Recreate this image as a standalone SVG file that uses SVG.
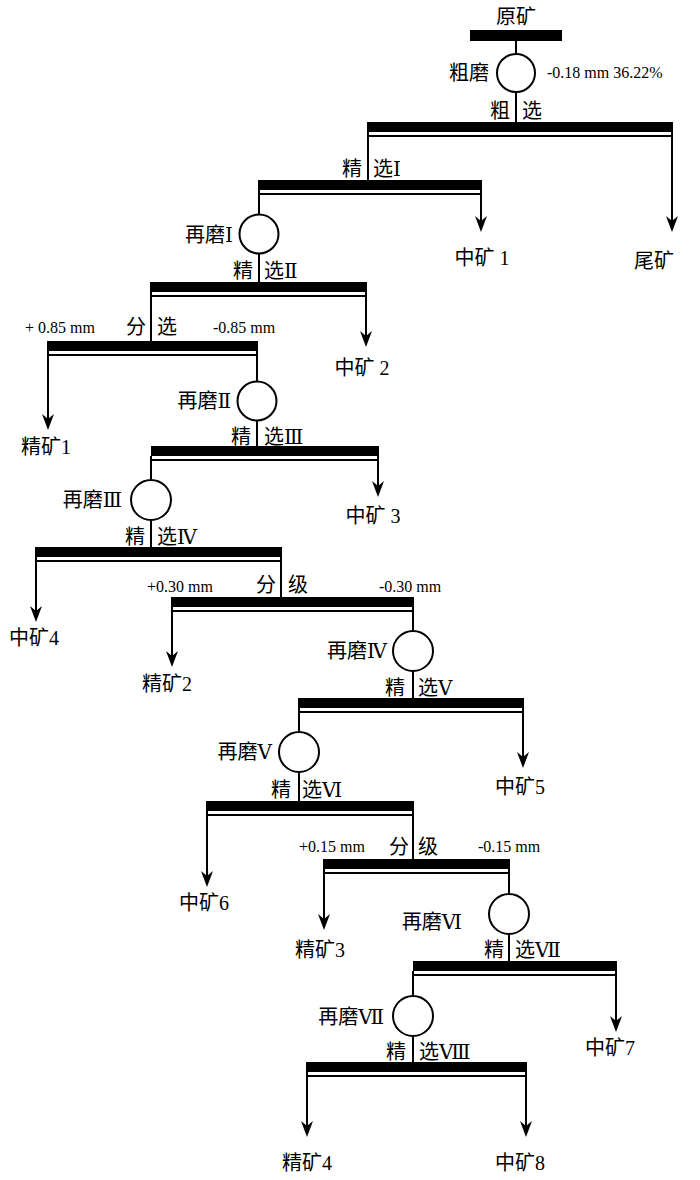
<svg xmlns="http://www.w3.org/2000/svg" width="700" height="1180" viewBox="0 0 700 1180">
<style>
text{font-family:"Liberation Serif","DejaVu Serif","Noto Sans CJK SC",serif;fill:#000}
.cn{font-size:20px}
.mm{font-size:16px}
.e{text-anchor:end}
.m{text-anchor:middle}
.bar{fill:#000}
.thin{stroke:#000;stroke-width:2}
.ln{stroke:#000;stroke-width:2;fill:none}
.mill{fill:#fff;stroke:#000;stroke-width:2}
</style>
<defs>
<path id="ah" d="M0,0 L-6,-16 L0,-11 L6,-16 Z" fill="#000"/>
</defs>
<rect width="700" height="1180" fill="#fff"/>

<g id="connectors">
<line class="ln" x1="516" y1="41" x2="516" y2="54"/>
<line class="ln" x1="516" y1="92" x2="516" y2="122"/>
<line class="ln" x1="368" y1="131" x2="368" y2="180"/>
<line class="ln" x1="672" y1="131" x2="672" y2="221"/>
<use href="#ah" x="672" y="232"/>
<line class="ln" x1="259" y1="190" x2="259" y2="215"/>
<line class="ln" x1="481" y1="190" x2="481" y2="221"/>
<use href="#ah" x="481" y="232"/>
<line class="ln" x1="259" y1="254" x2="259" y2="282"/>
<line class="ln" x1="151" y1="292" x2="151" y2="341"/>
<line class="ln" x1="366" y1="292" x2="366" y2="336"/>
<use href="#ah" x="366" y="347"/>
<line class="ln" x1="48" y1="351" x2="48" y2="419"/>
<use href="#ah" x="48" y="430"/>
<line class="ln" x1="257" y1="351" x2="257" y2="382"/>
<line class="ln" x1="257" y1="421" x2="257" y2="446"/>
<line class="ln" x1="378" y1="456" x2="378" y2="486"/>
<use href="#ah" x="378" y="497"/>
<line class="ln" x1="151" y1="456" x2="151" y2="480"/>
<line class="ln" x1="151" y1="520" x2="151" y2="547"/>
<line class="ln" x1="36" y1="557" x2="36" y2="611"/>
<use href="#ah" x="36" y="622"/>
<line class="ln" x1="281" y1="557" x2="281" y2="597"/>
<line class="ln" x1="172" y1="607" x2="172" y2="656"/>
<use href="#ah" x="172" y="667"/>
<line class="ln" x1="413" y1="607" x2="413" y2="631"/>
<line class="ln" x1="413" y1="671" x2="413" y2="698"/>
<line class="ln" x1="523" y1="708" x2="523" y2="757"/>
<use href="#ah" x="523" y="768"/>
<line class="ln" x1="299" y1="708" x2="299" y2="732"/>
<line class="ln" x1="299" y1="772" x2="299" y2="801"/>
<line class="ln" x1="207" y1="811" x2="207" y2="876"/>
<use href="#ah" x="207" y="887"/>
<line class="ln" x1="413" y1="811" x2="413" y2="859"/>
<line class="ln" x1="324" y1="869" x2="324" y2="919"/>
<use href="#ah" x="324" y="930"/>
<line class="ln" x1="509" y1="869" x2="509" y2="894"/>
<line class="ln" x1="509" y1="934" x2="509" y2="961"/>
<line class="ln" x1="616" y1="971" x2="616" y2="1021"/>
<use href="#ah" x="616" y="1032"/>
<line class="ln" x1="413" y1="971" x2="413" y2="996"/>
<line class="ln" x1="413" y1="1036" x2="413" y2="1062"/>
<line class="ln" x1="307" y1="1072" x2="307" y2="1126"/>
<use href="#ah" x="307" y="1137"/>
<line class="ln" x1="526" y1="1072" x2="526" y2="1126"/>
<use href="#ah" x="526" y="1137"/>
</g>

<g id="feed">
<text class="cn m" x="516" y="24">原矿</text>
<rect class="bar" x="470" y="30" width="92" height="11"/>
</g>

<g id="mill-rough">
<circle class="mill" cx="516" cy="73" r="19"/>
<text class="cn e" x="489" y="80">粗磨</text>
<text class="mm" x="547" y="78">-0.18 mm 36.22%</text>
</g>

<g id="rougher">
<rect class="bar" x="367" y="122" width="306" height="10"/>
<line class="thin" x1="367" y1="136" x2="673" y2="136"/>
<text class="cn e" x="510" y="118">粗</text>
<text class="cn" x="522" y="118">选</text>
</g>

<g id="tailings"><text class="cn m" x="654" y="268">尾矿</text></g>

<g id="cleaner1">
<rect class="bar" x="258" y="180" width="224" height="10"/>
<line class="thin" x1="258" y1="194" x2="482" y2="194"/>
<text class="cn e" x="362" y="176">精</text>
<text class="cn" x="373" y="176">选Ⅰ</text>
</g>

<g id="middling1"><text class="cn m" x="482" y="265">中矿 1</text></g>

<g id="regrind1">
<circle class="mill" cx="259" cy="234" r="19.5"/>
<text class="cn e" x="233" y="242">再磨Ⅰ</text>
</g>

<g id="cleaner2">
<rect class="bar" x="150" y="282" width="217" height="10"/>
<line class="thin" x1="150" y1="296" x2="367" y2="296"/>
<text class="cn e" x="253" y="278">精</text>
<text class="cn" x="264" y="278">选Ⅱ</text>
</g>

<g id="middling2"><text class="cn m" x="362" y="375">中矿 2</text></g>

<g id="split085">
<rect class="bar" x="47" y="341" width="211" height="10"/>
<line class="thin" x1="47" y1="355" x2="258" y2="355"/>
<text class="mm" x="25" y="333">+ 0.85 mm</text>
<text class="cn e" x="146" y="334">分</text>
<text class="cn" x="157" y="334">选</text>
<text class="mm" x="213" y="333">-0.85 mm</text>
</g>

<g id="concentrate1"><text class="cn m" x="46" y="454">精矿1</text></g>

<g id="regrind2">
<circle class="mill" cx="257" cy="401" r="19.5"/>
<text class="cn e" x="231" y="408">再磨Ⅱ</text>
</g>

<g id="cleaner3">
<rect class="bar" x="151" y="446" width="228" height="10"/>
<line class="thin" x1="151" y1="460" x2="379" y2="460"/>
<text class="cn e" x="251" y="444">精</text>
<text class="cn" x="264" y="444">选Ⅲ</text>
</g>

<g id="middling3"><text class="cn m" x="373" y="523">中矿 3</text></g>

<g id="regrind3">
<circle class="mill" cx="151" cy="500" r="20"/>
<text class="cn e" x="122" y="507">再磨Ⅲ</text>
</g>

<g id="cleaner4">
<rect class="bar" x="35" y="547" width="247" height="10"/>
<line class="thin" x1="35" y1="561" x2="282" y2="561"/>
<text class="cn e" x="145" y="544">精</text>
<text class="cn" x="157" y="544">选Ⅳ</text>
</g>

<g id="middling4"><text class="cn m" x="34" y="645">中矿4</text></g>

<g id="classify030">
<rect class="bar" x="171" y="597" width="243" height="10"/>
<line class="thin" x1="171" y1="611" x2="414" y2="611"/>
<text class="mm" x="147" y="592">+0.30 mm</text>
<text class="cn e" x="276" y="592">分</text>
<text class="cn" x="288" y="592">级</text>
<text class="mm" x="379" y="592">-0.30 mm</text>
</g>

<g id="concentrate2"><text class="cn m" x="167" y="691">精矿2</text></g>

<g id="regrind4">
<circle class="mill" cx="413" cy="651" r="20"/>
<text class="cn e" x="387" y="658">再磨Ⅳ</text>
</g>

<g id="cleaner5">
<rect class="bar" x="298" y="698" width="226" height="10"/>
<line class="thin" x1="298" y1="712" x2="524" y2="712"/>
<text class="cn e" x="405" y="695">精</text>
<text class="cn" x="418" y="695">选Ⅴ</text>
</g>

<g id="middling5"><text class="cn m" x="520" y="794">中矿5</text></g>

<g id="regrind5">
<circle class="mill" cx="299" cy="752" r="20"/>
<text class="cn e" x="272" y="759">再磨Ⅴ</text>
</g>

<g id="cleaner6">
<rect class="bar" x="206" y="801" width="208" height="10"/>
<line class="thin" x1="206" y1="815" x2="414" y2="815"/>
<text class="cn e" x="291" y="797">精</text>
<text class="cn" x="302" y="797">选Ⅵ</text>
</g>

<g id="middling6"><text class="cn m" x="204" y="910">中矿6</text></g>

<g id="classify015">
<rect class="bar" x="323" y="859" width="187" height="10"/>
<line class="thin" x1="323" y1="873" x2="510" y2="873"/>
<text class="mm" x="299" y="852">+0.15 mm</text>
<text class="cn e" x="409" y="854">分</text>
<text class="cn" x="418" y="854">级</text>
<text class="mm" x="478" y="852">-0.15 mm</text>
</g>

<g id="concentrate3"><text class="cn m" x="320" y="957">精矿3</text></g>

<g id="regrind6">
<circle class="mill" cx="509" cy="914" r="20"/>
<text class="cn e" x="462" y="929">再磨Ⅵ</text>
</g>

<g id="cleaner7">
<rect class="bar" x="413" y="961" width="204" height="10"/>
<line class="thin" x1="413" y1="975" x2="617" y2="975"/>
<text class="cn e" x="504" y="957">精</text>
<text class="cn" x="515" y="957">选Ⅶ</text>
</g>

<g id="middling7"><text class="cn m" x="610" y="1055">中矿7</text></g>

<g id="regrind7">
<circle class="mill" cx="413" cy="1016" r="20"/>
<text class="cn e" x="384" y="1024">再磨Ⅶ</text>
</g>

<g id="cleaner8">
<rect class="bar" x="306" y="1062" width="221" height="10"/>
<line class="thin" x1="306" y1="1076" x2="527" y2="1076"/>
<text class="cn e" x="406" y="1059">精</text>
<text class="cn" x="419" y="1059">选Ⅷ</text>
</g>

<g id="concentrate4"><text class="cn m" x="307" y="1170">精矿4</text></g>
<g id="middling8"><text class="cn m" x="520" y="1170">中矿8</text></g>
</svg>
